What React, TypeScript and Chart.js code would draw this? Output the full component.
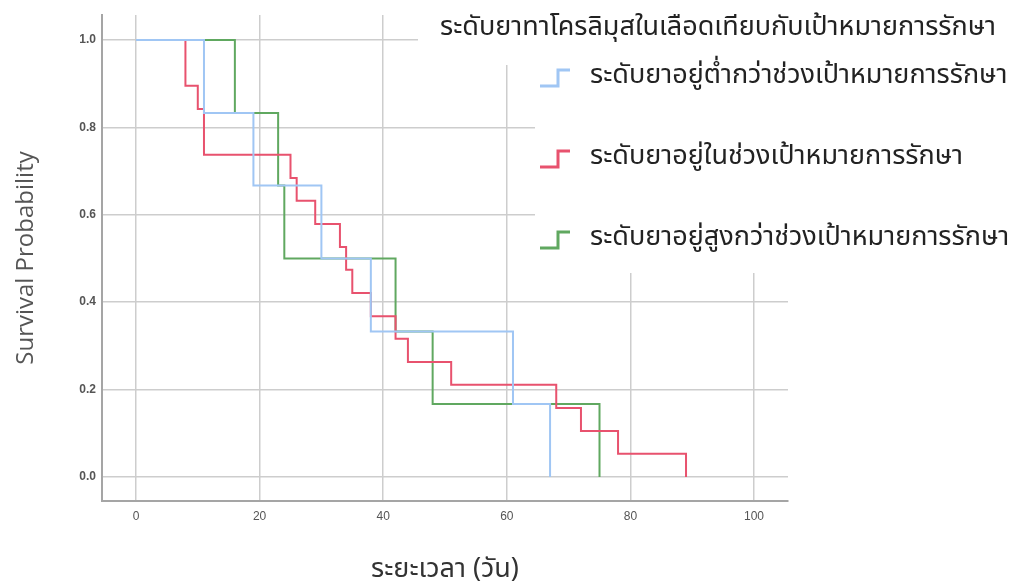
import React, { useEffect, useRef } from "react";
import { Chart, registerables } from "chart.js";

Chart.register(...registerables);

// Kaplan–Meier step data (time in days, survival probability after event)
const lowTimes = [0, 11, 19, 30, 38, 61, 67];
const lowSurv = [1.0, 0.833, 0.667, 0.5, 0.333, 0.167, 0.0];

const inTimes = [0, 8, 10, 11, 25, 26, 29, 33, 34, 35, 38, 42, 44, 51, 68, 72, 78, 89];
const inSurv = [1.0, 0.895, 0.842, 0.737, 0.684, 0.632, 0.579, 0.526, 0.474, 0.421, 0.368, 0.316, 0.263, 0.211, 0.158, 0.105, 0.053, 0.0];

const highTimes = [0, 16, 23, 24, 42, 48, 75];
const highSurv = [1.0, 0.833, 0.667, 0.5, 0.333, 0.167, 0.0];

const seriesLabels = [
  "ระดับยาอยู่ต่ำกว่าช่วงเป้าหมายการรักษา",
  "ระดับยาอยู่ในช่วงเป้าหมายการรักษา",
  "ระดับยาอยู่สูงกว่าช่วงเป้าหมายการรักษา",
];
const seriesColors = ["rgb(160,198,244)", "rgb(232,82,110)", "rgb(96,168,96)"];

const legendTitle = "ระดับยาทาโครลิมุสในเลือดเทียบกับเป้าหมายการรักษา";
const xTitle = "ระยะเวลา (วัน)";
const yTitle = "Survival Probability";

const xTickValues = [0, 20, 40, 60, 80, 100];
const yTickValues = [0, 0.2, 0.4, 0.6, 0.8, 1.0];
const yTickLabels = ["0.0", "0.2", "0.4", "0.6", "0.8", "1.0"];

const THAI_FONT = '"Noto Sans Thai", "Noto Sans Thai UI", Tahoma, "Leelawadee UI", "Open Sans", sans-serif';

const toPoints = (xs: number[], ys: number[]) => xs.map((x, i) => ({ x, y: ys[i] }));

const legendPlugin = {
  id: "kmLegend",
  afterDraw(chart: any) {
    const ctx = chart.ctx;
    ctx.save();
    ctx.fillStyle = "#ffffff";
    ctx.fillRect(418, 0, 600, 65);
    ctx.fillRect(535, 65, 483, 208);

    ctx.fillStyle = "#222222";
    ctx.textBaseline = "middle";
    ctx.textAlign = "left";
    ctx.font = `27px ${THAI_FONT}`;
    ctx.fillText(legendTitle, 440, 30);

    const rows = [78, 159, 240];
    chart.data.datasets.forEach((ds: any, i: number) => {
      const y = rows[i];
      ctx.strokeStyle = ds.borderColor;
      ctx.lineWidth = 3;
      ctx.beginPath();
      ctx.moveTo(540, y + 8);
      ctx.lineTo(558, y + 8);
      ctx.lineTo(558, y - 8);
      ctx.lineTo(570, y - 8);
      ctx.stroke();
      ctx.fillStyle = "#222222";
      ctx.font = `27px ${THAI_FONT}`;
      ctx.fillText(ds.label, 590, y);
    });
    ctx.restore();
  },
};

export default function App() {
  const canvasRef = useRef<HTMLCanvasElement | null>(null);

  useEffect(() => {
    const canvas = canvasRef.current;
    if (!canvas) return;
    const chart = new Chart(canvas, {
      type: "line",
      data: {
        datasets: [
          { label: seriesLabels[0], data: toPoints(lowTimes, lowSurv), borderColor: seriesColors[0] },
          { label: seriesLabels[1], data: toPoints(inTimes, inSurv), borderColor: seriesColors[1] },
          { label: seriesLabels[2], data: toPoints(highTimes, highSurv), borderColor: seriesColors[2] },
        ].map((d) => ({ ...d, stepped: "before", borderWidth: 2, pointRadius: 0, fill: false, tension: 0 })),
      },
      options: {
        responsive: false,
        animation: false,
        events: [],
        layout: { padding: { left: 0, right: 230, top: 15, bottom: 0 } },
        plugins: { legend: { display: false }, tooltip: { enabled: false } },
        scales: {
          x: {
            type: "linear",
            min: -5.5,
            max: 105.5,
            afterBuildTicks: (scale: any) => {
              scale.ticks = xTickValues.map((value) => ({ value }));
            },
            afterFit: (scale: any) => {
              scale.height = 87;
            },
            grid: { color: "rgb(205,205,205)", lineWidth: 1.5, drawTicks: false },
            border: { color: "rgb(165,165,165)", width: 2 },
            ticks: {
              padding: 8,
              color: "#555555",
              font: { family: '"Liberation Sans Narrow", "Liberation Sans", Arial, sans-serif', size: 12 },
              maxRotation: 0,
            },
            title: {
              display: true,
              text: xTitle,
              color: "#333333",
              font: { family: THAI_FONT, size: 27 },
              padding: { top: 0, bottom: 0 },
            },
          },
          y: {
            type: "linear",
            min: -0.055,
            max: 1.057,
            afterBuildTicks: (scale: any) => {
              scale.ticks = yTickValues.map((value) => ({ value }));
            },
            afterFit: (scale: any) => {
              scale.width = 102;
            },
            grid: { color: "rgb(205,205,205)", lineWidth: 1.5, drawTicks: false },
            border: { color: "rgb(165,165,165)", width: 2 },
            ticks: {
              padding: 6,
              color: "#555555",
              font: { family: '"Liberation Sans Narrow", "Liberation Sans", Arial, sans-serif', size: 12, weight: "bold" },
              callback: (v: any) => {
                const idx = yTickValues.findIndex((t) => Math.abs(t - Number(v)) < 1e-9);
                return idx >= 0 ? yTickLabels[idx] : "";
              },
            },
            title: {
              display: true,
              text: yTitle,
              color: "#555555",
              font: { family: '"Open Sans", "Noto Sans", sans-serif', size: 24 },
              padding: { top: 12, bottom: 0 },
            },
          },
        },
      },
      plugins: [legendPlugin],
    } as any);
    return () => chart.destroy();
  }, []);

  return (
    <div style={{ position: "fixed", left: 0, top: 0, width: 1018, height: 588, background: "#ffffff" }}>
      <canvas ref={canvasRef} width={1018} height={588} style={{ display: "block" }} />
    </div>
  );
}
